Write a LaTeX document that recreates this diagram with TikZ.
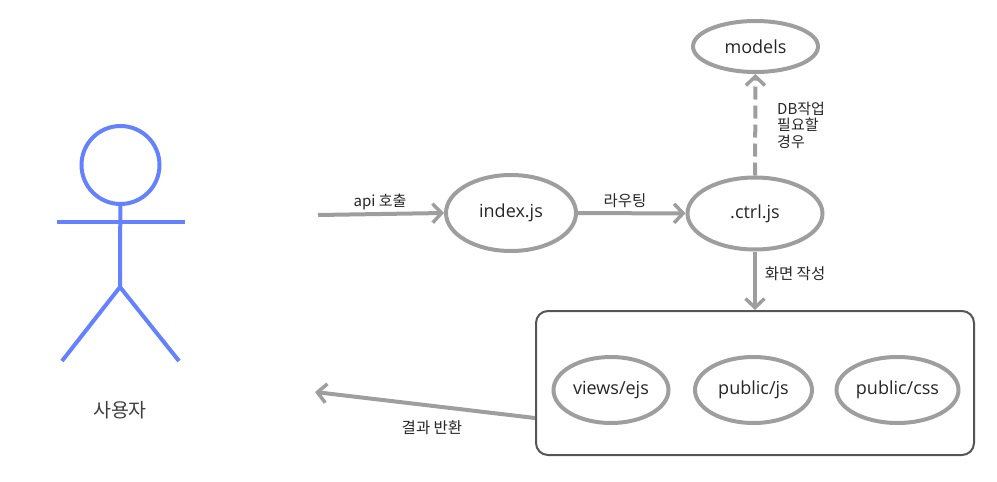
\documentclass[tikz,border=0pt]{standalone}
\usepackage{fontspec}
\setmainfont{Open Sans}
\newfontfamily\krfont{Noto Sans CJK KR}
\usetikzlibrary{arrows.meta,shapes.geometric}
\definecolor{linegray}{HTML}{9E9E9E}
\definecolor{boxgray}{HTML}{555555}
\definecolor{userblue}{HTML}{6482FF}
\tikzset{
  module/.style={ellipse,draw=linegray,line width=4pt,inner sep=0pt,font=\fontsize{18}{20}\selectfont,text=black!85},
  flow/.style={draw=linegray,line width=4pt,-{Straight Barb[length=9pt,width=19pt,line width=3.5pt]}},
  limb/.style={draw=userblue,line width=4pt},
  note/.style={font=\krfont\fontsize{15.5}{16.5}\selectfont,text=black!85,inner sep=0pt}
}
\begin{document}
\begin{tikzpicture}[x=1pt,y=-1pt]
  \useasboundingbox (0,0) rectangle (997,482);

  % stick figure
  \node[circle,draw=userblue,line width=4pt,minimum size=78pt,inner sep=0pt] (head) at (120.5,165) {};
  \coordinate (hip) at (120,287);
  \coordinate (armL) at (57,222);
  \coordinate (armR) at (185,222);
  \coordinate (footL) at (62,361);
  \coordinate (footR) at (179,361);
  \draw[limb] (head) -- (hip);
  \draw[limb] (armL) -- (armR);
  \draw[limb] (footL) -- (hip) -- (footR);
  \node[note,font=\krfont\fontsize{19.5}{22}\selectfont,text=black!75] (user) at (120,410) {사용자};

  % modules
  \node[module,minimum width=125pt,minimum height=51pt] (models) at (755.5,46.5) {models};
  \node[module,minimum width=130pt,minimum height=76pt] (index) at (511,213) {index.js};
  \node[module,minimum width=135pt,minimum height=72pt] (ctrl) at (755,213.5) {.ctrl.js};

  % result box
  \node[draw=boxgray,line width=2pt,rounded corners=12pt,minimum width=438pt,minimum height=144pt,inner sep=0pt] (box) at (755,383) {};
  \node[module,minimum width=115pt,minimum height=66pt] (ejs) at (611,390) {views/ejs};
  \node[module,minimum width=117pt,minimum height=66pt] (pubjs) at (753.5,390) {public/js};
  \node[module,minimum width=122pt,minimum height=66pt] (pubcss) at (897.5,390) {public/css};

  % connectors
  \coordinate (callStart) at (318,215);
  \coordinate (backEnd) at (315,392);
  \draw[flow] (callStart) -- (index.west);
  \draw[flow] (index) -- (ctrl);
  \draw[flow,dashed,dash pattern=on 13pt off 6pt] (ctrl) -- (models);
  \draw[flow] (ctrl) -- (box.north);
  \draw[flow] ([yshift=-35pt]box.west) -- (backEnd);

  % labels
  \node[note,font=\krfont\fontsize{15}{16.5}\selectfont] (callLabel) at (380,202) {api 호출};
  \node[note] (routeLabel) at (625,201) {라우팅};
  \node[note,font=\krfont\fontsize{15}{16.5}\selectfont,align=left,anchor=west] (dbLabel) at (777,125) {DB작업\\필요할\\경우};
  \node[note] (viewLabel) at (795,274) {화면 작성};
  \node[note] (backLabel) at (432,428) {결과 반환};
\end{tikzpicture}
\end{document}
